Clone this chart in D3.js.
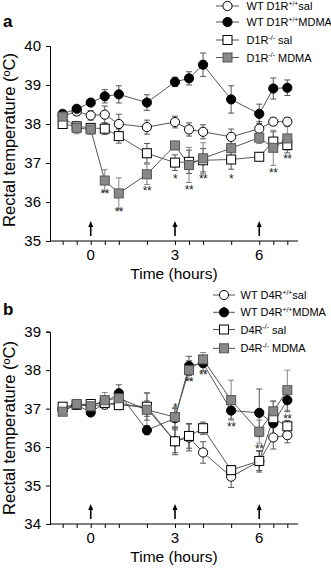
<!DOCTYPE html>
<html><head><meta charset="utf-8">
<script src="https://cdn.jsdelivr.net/npm/d3@7"></script>
<style>body{margin:0;background:#fff}svg{display:block}text{font-family:"Liberation Sans",Arial,sans-serif}</style>
</head><body>
<svg id="c" width="331" height="568"></svg>
<script>
// ---------- data ----------
const times = [-1, -0.5, 0, 0.5, 1, 2, 3, 3.5, 4, 5, 6, 6.5, 7];
const xTickLabels = [0, 3, 6];
const injections = [0, 3, 6];

// Panel a (D1R)
const aNames = ["WT D1R|+/+|sal", "WT D1R|+/+|MDMA", "D1R|-/-| sal", "D1R|-/-| MDMA"];
const aWtSal      = [38.20, 38.32, 38.22, 38.24, 38.00, 37.92, 38.05, 37.86, 37.80, 37.67, 37.88, 38.06, 38.06];
const aWtSalErr   = [0.08, 0.10, 0.12, 0.22, 0.25, 0.18, 0.15, 0.17, 0.18, 0.20, 0.18, 0.10, 0.10];
const aWtMdma     = [38.26, 38.39, 38.55, 38.71, 38.76, 38.55, 39.08, 39.17, 39.52, 38.63, 38.26, 38.91, 38.93];
const aWtMdmaErr  = [0.06, 0.06, 0.08, 0.17, 0.22, 0.20, 0.12, 0.17, 0.30, 0.35, 0.25, 0.27, 0.20];
const aKoSal      = [38.00, 37.94, 37.90, 37.88, 37.69, 37.25, 37.01, 37.03, 37.07, 37.09, 37.16, 37.55, 37.46];
const aKoSalErr   = [0.10, 0.12, 0.10, 0.15, 0.18, 0.25, 0.20, 0.30, 0.30, 0.25, 0.10, 0.25, 0.20];
const aKoMdma     = [38.19, 37.90, 37.86, 36.55, 36.22, 36.71, 37.45, 36.95, 37.12, 37.38, 37.65, 37.39, 37.63];
const aKoMdmaErr  = [0.08, 0.15, 0.12, 0.28, 0.40, 0.26, 0.10, 0.45, 0.40, 0.25, 0.15, 0.45, 0.30];
const aSigTimes   = [0.5, 1, 2, 3, 3.5, 4, 5, 6.5, 7];
const aSigY       = [36.22, 35.78, 36.30, 36.62, 36.34, 36.62, 36.62, 36.78, 37.12];
const aSigLabels  = ["**", "**", "**", "*", "**", "**", "*", "**", "**"];

// Panel b (D4R)
const bNames = ["WT D4R|+/+|sal", "WT D4R|+/+|MDMA", "D4R|-/-| sal", "D4R|-/-| MDMA"];
const bWtSal      = [37.00, 37.10, 37.08, 37.10, 37.15, 37.00, 36.15, 36.25, 35.86, 35.23, 35.63, 36.25, 36.31];
const bWtSalErr   = [0.08, 0.08, 0.08, 0.10, 0.10, 0.20, 0.30, 0.35, 0.28, 0.28, 0.28, 0.30, 0.20];
const bWtMdma     = [36.95, 37.10, 36.90, 37.15, 37.40, 36.44, 36.75, 38.11, 38.18, 36.95, 36.89, 36.62, 37.22];
const bWtMdmaErr  = [0.10, 0.08, 0.08, 0.10, 0.22, 0.12, 0.25, 0.25, 0.20, 0.22, 0.62, 0.30, 0.30];
const bKoSal      = [37.05, 37.10, 37.12, 37.15, 37.09, 37.05, 36.15, 36.29, 36.49, 35.40, 35.64, 36.75, 36.54];
const bKoSalErr   = [0.08, 0.08, 0.08, 0.10, 0.10, 0.35, 0.35, 0.32, 0.16, 0.12, 0.25, 0.45, 0.15];
const bKoMdma     = [36.92, 37.12, 37.06, 37.22, 37.27, 36.97, 36.78, 38.00, 38.28, 37.22, 36.40, 36.93, 37.48];
const bKoMdmaErr  = [0.10, 0.08, 0.10, 0.20, 0.18, 0.45, 0.25, 0.25, 0.18, 0.52, 0.30, 0.25, 0.52];
const bSigTimes   = [3, 3.5, 4, 5, 6, 7];
const bSigY       = [37.05, 37.72, 37.90, 36.55, 35.98, 36.76];
const bSigLabels  = ["*", "**", "**", "**", "**", "**"];

// ---------- drawing ----------
const svg = d3.select("#c");
const x = d3.scaleLinear().domain([-1.45, 7.38]).range([50, 298]);

const styles = [
  {shape: "circle", fill: "#fff"},
  {shape: "circle", fill: "#000"},
  {shape: "square", fill: "#fff"},
  {shape: "square", fill: "#888"}
];

function legendText(g, name, lx, ly, fs) {
  const parts = name.split("|");
  const t = g.append("text").attr("x", lx).attr("y", ly).attr("font-size", fs).attr("fill", "#000");
  t.append("tspan").text(parts[0]);
  t.append("tspan").attr("dy", -4.5).attr("font-size", fs * 0.62).text(parts[1]);
  t.append("tspan").attr("dy", 4.5).text(parts[2]);
}

function marker(g, st, cx, cy) {
  if (st.shape === "circle") {
    g.append("circle").attr("cx", cx).attr("cy", cy).attr("r", 4.6)
      .attr("fill", st.fill).attr("stroke", "#000").attr("stroke-width", 1);
  } else {
    g.append("rect").attr("x", cx - 4.5).attr("y", cy - 4.5).attr("width", 9).attr("height", 9)
      .attr("fill", st.fill).attr("stroke", st.fill === "#888" ? "#555" : "#000").attr("stroke-width", 1);
  }
}

function panel(cfg) {
  const y = d3.scaleLinear().domain(cfg.domain).range(cfg.range);
  const g = svg.append("g");

  // axes
  const yAxis = d3.axisLeft(y).ticks(5).tickSize(4).tickFormat(d3.format("d"));
  const ya = g.append("g").attr("transform", `translate(${x.range()[0]},0)`).call(yAxis);
  ya.select(".domain").attr("stroke", "#000");
  ya.selectAll(".tick text").attr("font-size", 15).attr("font-family", "Liberation Sans, Arial").attr("dx", -2);

  const xAxis = d3.axisBottom(x).tickValues(times).tickSize(4).tickFormat("");
  const xa = g.append("g").attr("transform", `translate(0,${cfg.range[0]})`).call(xAxis);
  xa.select(".domain").attr("d", `M${x.range()[0]},0H${x.range()[1]}`);
  xa.selectAll(".tick line").attr("stroke", "#000");

  g.selectAll(".xl").data(xTickLabels).join("text")
    .attr("x", d => x(d)).attr("y", cfg.range[0] + 19).attr("text-anchor", "middle")
    .attr("font-size", 15).text(d => d);

  g.append("text").attr("x", 174).attr("y", cfg.range[0] + 38).attr("text-anchor", "middle")
    .attr("font-size", 15.5).text("Time (hours)");

  g.append("text").attr("transform", `translate(14.5,${cfg.labelY}) rotate(-90)`)
    .attr("text-anchor", "middle").attr("font-size", 16.5).text("Rectal temperature (ºC)");

  g.append("text").attr("x", 3).attr("y", cfg.panelY).attr("font-size", 17).attr("font-weight", "bold").text(cfg.panel);

  // injection arrows
  injections.forEach(t => {
    const cx = x(t), yb = cfg.range[0] - 5, yt = cfg.range[0] - 20;
    g.append("line").attr("x1", cx).attr("x2", cx).attr("y1", yb).attr("y2", yt + 4)
      .attr("stroke", "#000").attr("stroke-width", 1.6);
    g.append("path").attr("d", `M${cx},${yt}L${cx - 2.5},${yt + 6}L${cx + 2.5},${yt + 6}Z`).attr("fill", "#000");
  });

  // series lines + error bars
  cfg.series.forEach((s, i) => {
    const vals = s.v, errs = s.e;
    const line = d3.line().x((d, j) => x(times[j])).y(d => y(d));
    g.append("path").datum(vals).attr("d", line).attr("fill", "none")
      .attr("stroke", "#444").attr("stroke-width", 0.9);
    const col = i === 3 ? "#777" : "#444";
    vals.forEach((v, j) => {
      const cx = x(times[j]);
      const y1 = y(v - errs[j]), y2 = y(v + errs[j]);
      g.append("line").attr("x1", cx).attr("x2", cx).attr("y1", y1).attr("y2", y2).attr("stroke", col).attr("stroke-width", 0.9);
      [y1, y2].forEach(yy => g.append("line").attr("x1", cx - 3).attr("x2", cx + 3).attr("y1", yy).attr("y2", yy)
        .attr("stroke", col).attr("stroke-width", 0.9));
    });
  });
  // markers
  cfg.series.forEach((s, i) => {
    s.v.forEach((v, j) => marker(g, styles[i], x(times[j]), y(v)));
  });

  // significance
  cfg.sigT.forEach((t, k) => {
    g.append("text").attr("x", x(t)).attr("y", y(cfg.sigY[k]) + 5).attr("text-anchor", "middle")
      .attr("font-size", 12).attr("letter-spacing", -0.5).attr("fill", "#222").text(cfg.sigL[k]);
  });

  // legend
  cfg.names.forEach((n, i) => {
    const ly = cfg.legY[i];
    g.append("line").attr("x1", cfg.legX0).attr("x2", cfg.legX1).attr("y1", ly).attr("y2", ly)
      .attr("stroke", "#555").attr("stroke-width", 1);
    marker(g, styles[i], (cfg.legX0 + cfg.legX1) / 2, ly);
    legendText(g, n, cfg.legTx, ly + 4, cfg.legFs);
  });
}

panel({
  domain: [35, 40], range: [241, 46], labelY: 140, panelY: 27, panel: "a",
  series: [{v: aWtSal, e: aWtSalErr}, {v: aWtMdma, e: aWtMdmaErr}, {v: aKoSal, e: aKoSalErr}, {v: aKoMdma, e: aKoMdmaErr}],
  sigT: aSigTimes, sigY: aSigY, sigL: aSigLabels, names: aNames,
  legY: [6, 22, 40, 57.5], legX0: 216, legX1: 239, legTx: 246.5, legFs: 11
});
panel({
  domain: [34, 39], range: [524, 331.7], labelY: 428, panelY: 315, panel: "b",
  series: [{v: bWtSal, e: bWtSalErr}, {v: bWtMdma, e: bWtMdmaErr}, {v: bKoSal, e: bKoSalErr}, {v: bKoMdma, e: bKoMdmaErr}],
  sigT: bSigTimes, sigY: bSigY, sigL: bSigLabels, names: bNames,
  legY: [295, 312.3, 329.5, 348.3], legX0: 213, legX1: 235, legTx: 240.5, legFs: 11
});
</script>
</body></html>
